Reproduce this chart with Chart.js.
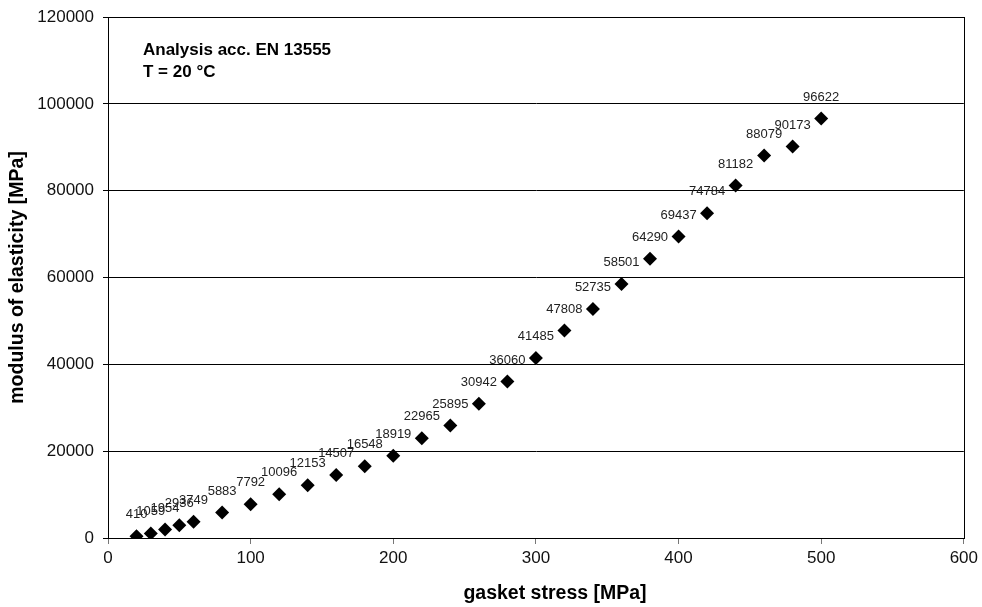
<!DOCTYPE html>
<html>
<head>
<meta charset="utf-8">
<script src="https://cdn.jsdelivr.net/npm/chart.js@4/dist/chart.umd.min.js"></script>
<style>
  html, body { margin: 0; padding: 0; background: #fff; }
  #wrap { width: 982px; height: 607px; }
</style>
</head>
<body>
<div id="wrap"><canvas id="myChart" width="982" height="607"></canvas></div>
<script>
// gasket stress [MPa]
var stress = [20, 30, 40, 50, 60, 80, 100, 120, 140, 160, 180, 200, 220, 240, 260, 280, 300, 320, 340, 360, 380, 400, 420, 440, 460, 480, 500];
// modulus of elasticity [MPa]
var modulus = [410, 1059, 1954, 2936, 3749, 5883, 7792, 10096, 12153, 14507, 16548, 18919, 22965, 25895, 30942, 36060, 41485, 47808, 52735, 58501, 64290, 69437, 74784, 81182, 88079, 90173, 96622];
var noteLines = ["Analysis acc. EN 13555", "T = 20 \u00B0C"];
var xTitle = "gasket stress [MPa]";
var yTitle = "modulus of elasticity [MPa]";

var points = stress.map(function(x, i) { return { x: x, y: modulus[i] }; });

// values above each marker + note text + frame + x title
var labelPlugin = {
	id: "labels",
	afterDatasetsDraw: function(chart) {
		var ctx = chart.ctx;
		var meta = chart.getDatasetMeta(0);
		ctx.save();
		ctx.fillStyle = "#222";
		ctx.font = "13px 'Liberation Sans', Arial, sans-serif";
		ctx.textAlign = "center";
		ctx.textBaseline = "bottom";
		meta.data.forEach(function(pt, i) {
			ctx.fillText(String(modulus[i]), pt.x, pt.y - 15);
		});
		var a = chart.chartArea;
		ctx.strokeStyle = "#000";
		ctx.lineWidth = 1;
		ctx.strokeRect(Math.round(a.left) + 0.5, Math.round(a.top) + 0.5, Math.round(a.right - a.left), Math.round(a.bottom - a.top));
		ctx.fillStyle = "#000";
		ctx.font = "bold 17px 'Liberation Sans', Arial, sans-serif";
		ctx.textAlign = "left";
		ctx.textBaseline = "middle";
		ctx.fillText(noteLines[0], a.left + 35, a.top + 33);
		ctx.fillText(noteLines[1], a.left + 35, a.top + 55);
		ctx.font = "bold 19.5px 'Liberation Sans', Arial, sans-serif";
		ctx.textAlign = "center";
		ctx.fillText(xTitle, 555, 594);
		ctx.restore();
	}
};

var ctx = document.getElementById("myChart").getContext("2d");
var myChart = new Chart(ctx, {
	type: "scatter",
	data: {
		datasets: [{
			data: points,
			pointStyle: "rectRot",
			pointRadius: 7,
			pointHoverRadius: 7,
			backgroundColor: "#000",
			borderColor: "#000",
			borderWidth: 0
		}]
	},
	options: {
		responsive: false,
		animation: false,
		layout: { padding: { left: 0, top: 17, right: 15, bottom: 0 } },
		plugins: {
			legend: { display: false },
			tooltip: { enabled: false }
		},
		scales: {
			x: {
				type: "linear",
				min: 0,
				max: 600,
				ticks: { stepSize: 100, color: "#111", font: { family: "'Liberation Sans', Arial", size: 17 }, padding: 4 },
				grid: { drawOnChartArea: false, drawTicks: true, tickLength: 6, color: "#777" },
				border: { color: "#000" },
				title: { display: false },
				afterFit: function(s) { s.height = 607 - 538; }
			},
			y: {
				min: 0,
				max: 120000,
				ticks: {
					stepSize: 20000, color: "#111", font: { family: "'Liberation Sans', Arial", size: 17 }, padding: 9,
					callback: function(v) { return String(v); }
				},
				grid: { color: "#000", tickLength: 5, lineWidth: 1 },
				border: { color: "#000" },
				title: { display: true, text: yTitle, color: "#000", font: { family: "'Liberation Sans', Arial", size: 19.5, weight: "bold" }, padding: { top: 6, bottom: 0 } },
				afterFit: function(s) { s.width = 108; s.paddingTop = 0; }
			}
		}
	},
	plugins: [labelPlugin]
});
</script>
</body>
</html>
